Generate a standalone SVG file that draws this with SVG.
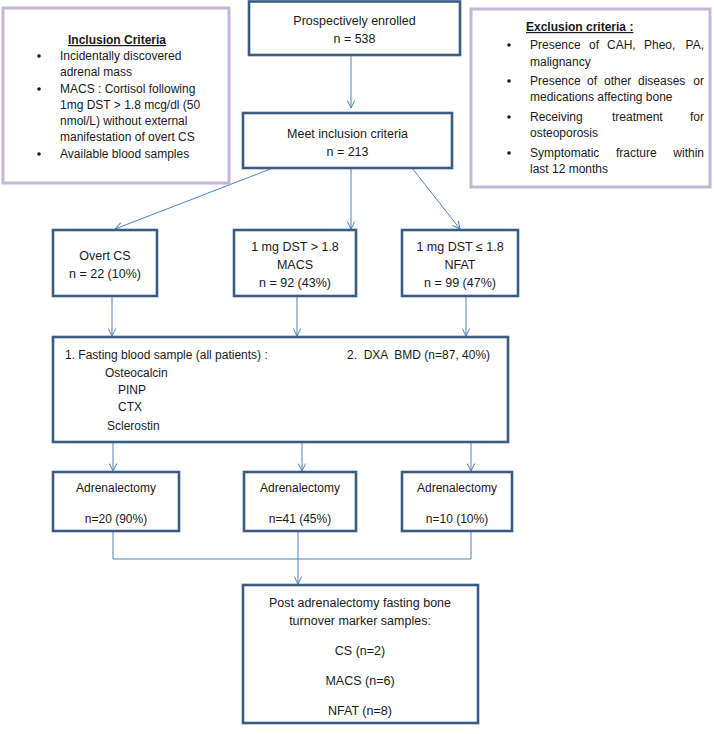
<svg xmlns="http://www.w3.org/2000/svg" width="714" height="734" viewBox="0 0 714 734">
<defs>
<marker id="arr" viewBox="0 0 9 9" refX="8" refY="4.5" markerWidth="9" markerHeight="9" markerUnits="userSpaceOnUse" orient="auto">
<polyline points="0.5,0.8 8,4.5 0.5,8.2" fill="none" stroke="#4f81bd" stroke-width="1"/>
</marker>
</defs>
<style>
text{font-family:"Liberation Sans",Arial,sans-serif;font-size:12px;fill:#1a1a1a}
.c{text-anchor:middle}
.e{text-anchor:end}
.b{font-size:12.5px}
.h{font-weight:bold;text-decoration:underline}
.box{fill:#fff;stroke:#3b5b87;stroke-width:2.6}
.crit{fill:#fff;stroke:#c5b6d6;stroke-width:3}
.con{fill:none;stroke:#4f81bd;stroke-width:1}
</style>
<rect width="714" height="734" fill="#fff"/>
<g id="connectors">
<line class="con" x1="351" y1="56" x2="351" y2="108" marker-end="url(#arr)"/>
<line class="con" x1="273" y1="168" x2="115" y2="229" marker-end="url(#arr)"/>
<line class="con" x1="351" y1="168" x2="351" y2="229" marker-end="url(#arr)"/>
<line class="con" x1="412" y1="168" x2="460" y2="229" marker-end="url(#arr)"/>
<line class="con" x1="112" y1="296" x2="112" y2="336" marker-end="url(#arr)"/>
<line class="con" x1="297" y1="296" x2="297" y2="336" marker-end="url(#arr)"/>
<line class="con" x1="466" y1="296" x2="466" y2="336" marker-end="url(#arr)"/>
<line class="con" x1="113" y1="442" x2="113" y2="471" marker-end="url(#arr)"/>
<line class="con" x1="302" y1="442" x2="302" y2="471" marker-end="url(#arr)"/>
<line class="con" x1="471" y1="442" x2="471" y2="471" marker-end="url(#arr)"/>
<polyline class="con" points="113,532 113,559 471,559 471,532"/>
<line class="con" x1="298" y1="532" x2="298" y2="584" marker-end="url(#arr)"/>
</g>
<g id="inclusion">
<rect class="crit" x="3" y="8" width="226" height="175"/>
<text class="h" x="68" y="44">Inclusion Criteria</text>
<circle cx="39" cy="56" r="1.8" fill="#1a1a1a"/>
<text x="60" y="60">Incidentally discovered</text>
<text x="60" y="76">adrenal mass</text>
<circle cx="39" cy="89" r="1.8" fill="#1a1a1a"/>
<text x="60" y="93">MACS : Cortisol following</text>
<text x="60" y="109">1mg DST &gt; 1.8 mcg/dl (50</text>
<text x="60" y="125">nmol/L) without external</text>
<text x="60" y="141">manifestation of overt CS</text>
<circle cx="39" cy="154" r="1.8" fill="#1a1a1a"/>
<text x="60" y="158">Available blood samples</text>
</g>
<g id="exclusion">
<rect class="crit" x="471" y="9" width="239" height="178"/>
<text class="h" x="526" y="31">Exclusion criteria :</text>
<circle cx="509" cy="45" r="1.8" fill="#1a1a1a"/>
<text x="530" y="49">Presence</text><text x="589" y="49">of</text><text x="607" y="49">CAH,</text><text x="644" y="49">Pheo,</text><text class="e" x="704" y="49">PA,</text>
<text x="530" y="66">malignancy</text>
<circle cx="509" cy="81" r="1.8" fill="#1a1a1a"/>
<text x="530" y="85">Presence</text><text x="587" y="85">of</text><text x="604" y="85">other</text><text x="638" y="85">diseases</text><text class="e" x="704" y="85">or</text>
<text x="530" y="101">medications affecting bone</text>
<circle cx="509" cy="117" r="1.8" fill="#1a1a1a"/>
<text x="530" y="121">Receiving</text><text x="612" y="121">treatment</text><text class="e" x="704" y="121">for</text>
<text x="530" y="137">osteoporosis</text>
<circle cx="509" cy="153" r="1.8" fill="#1a1a1a"/>
<text x="530" y="157">Symptomatic</text><text x="616" y="157">fracture</text><text class="e" x="704" y="157">within</text>
<text x="530" y="173">last 12 months</text>
</g>
<g id="enrolled">
<rect class="box" x="249" y="1.5" width="211" height="53.5"/>
<text class="c b" x="354.5" y="24.5">Prospectively enrolled</text>
<text class="c b" x="354.5" y="42.5">n = 538</text>
</g>
<g id="meet">
<rect class="box" x="243" y="113" width="209" height="55"/>
<text class="c b" x="347.5" y="137.5">Meet inclusion criteria</text>
<text class="c b" x="347.5" y="155.5">n = 213</text>
</g>
<g id="overt">
<rect class="box" x="53" y="230" width="104" height="66"/>
<text class="c b" x="105" y="259.5">Overt CS</text>
<text class="c b" x="105" y="277.5">n = 22 (10%)</text>
</g>
<g id="macs">
<rect class="box" x="234" y="230" width="122" height="66"/>
<text class="c b" x="295" y="250.5">1 mg DST &gt; 1.8</text>
<text class="c b" x="295" y="268.5">MACS</text>
<text class="c b" x="295" y="286.5">n = 92 (43%)</text>
</g>
<g id="nfat">
<rect class="box" x="402" y="230" width="116" height="66"/>
<text class="c b" x="460" y="250.5">1 mg DST ≤ 1.8</text>
<text class="c b" x="460" y="268.5">NFAT</text>
<text class="c b" x="460" y="286.5">n = 99 (47%)</text>
</g>
<g id="samples">
<rect class="box" x="53" y="337" width="455" height="105"/>
<text x="65" y="359">1. Fasting blood sample (all patients) :</text>
<text x="347" y="359" style="white-space:pre">2.  DXA  BMD (n=87, 40%)</text>
<text x="105" y="377">Osteocalcin</text>
<text x="118" y="394">PINP</text>
<text x="118" y="411">CTX</text>
<text x="107" y="430">Sclerostin</text>
</g>
<g id="adr1">
<rect class="box" x="53" y="472" width="126" height="59"/>
<text class="c" x="116" y="492">Adrenalectomy</text>
<text class="c" x="116" y="523">n=20 (90%)</text>
</g>
<g id="adr2">
<rect class="box" x="244" y="472" width="112" height="59"/>
<text class="c" x="300" y="492">Adrenalectomy</text>
<text class="c" x="300" y="523">n=41 (45%)</text>
</g>
<g id="adr3">
<rect class="box" x="402" y="472" width="110" height="59"/>
<text class="c" x="457" y="492">Adrenalectomy</text>
<text class="c" x="457" y="523">n=10 (10%)</text>
</g>
<g id="post">
<rect class="box" x="243" y="585" width="235" height="138"/>
<text class="c b" x="360" y="606.5">Post adrenalectomy fasting bone</text>
<text class="c b" x="360" y="624.5">turnover marker samples:</text>
<text class="c b" x="360" y="654.5">CS (n=2)</text>
<text class="c b" x="360" y="684.5">MACS (n=6)</text>
<text class="c b" x="360" y="714.5">NFAT (n=8)</text>
</g>
</svg>
